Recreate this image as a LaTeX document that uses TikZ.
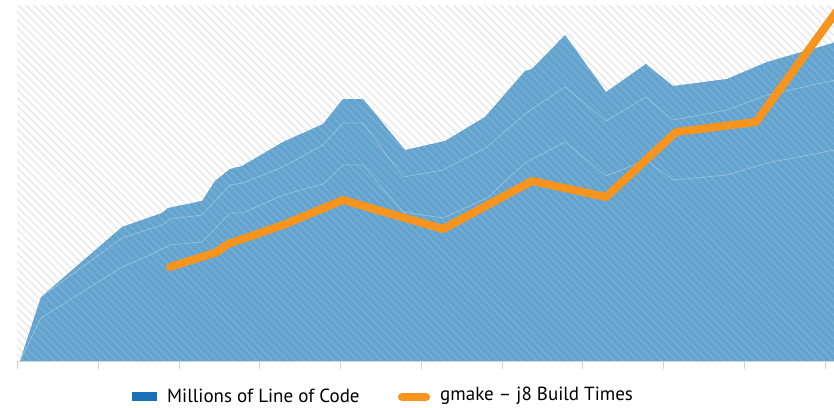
\documentclass[tikz,border=0pt]{standalone}
\usepackage{fontspec}
\setmainfont{PT Sans}
\usetikzlibrary{patterns.meta}
\definecolor{areablue}{HTML}{64A3CD}
\definecolor{hatchblue}{HTML}{72ADD5}
\definecolor{legblue}{HTML}{1A70B6}
\definecolor{buildorange}{HTML}{F7941D}
\definecolor{hatchgray}{HTML}{EBEBEB}
\definecolor{axisgray}{HTML}{D2D2D2}
\newcommand\codearea{(20,361) -- (41,297) -- (122,227) -- (162,213) -- (168,208) -- (202,201)
  -- (215,181) -- (230,169) -- (242,166) -- (283,142) -- (323,124) -- (343,99) -- (363,99)
  -- (405,150) -- (445,141) -- (485,117) -- (525,71) -- (532,69) -- (565,35) -- (606,92)
  -- (646,64) -- (673,86) -- (727,79) -- (767,62) -- (840,41) -- (840,361) -- cycle}
\begin{document}
\begin{tikzpicture}[x=1pt,y=-1pt,
  hatch/.style={pattern={Lines[angle=-45,distance=5.5pt,line width=1.7pt]},pattern color=#1},
  inner line/.style={draw=white,opacity=0.3,line width=0.7pt,line join=round},
  build/.style={buildorange,line width=8pt,line cap=round,line join=round},
  legend text/.style={font=\fontsize{19}{22}\selectfont,anchor=west,inner sep=0pt}]
\useasboundingbox (0,0) rectangle (834,407);
% plot background
\fill[white] (0,0) rectangle (834,407);
\fill[hatch=hatchgray] (17,5) rectangle (834,361);
\begin{scope}
\clip (0,0) rectangle (834,407);
% lines of code
\fill[areablue] \codearea;
\fill[hatch=hatchblue] \codearea;
\draw[inner line] (41,297) -- (122,238) -- (162,225) -- (170,219) -- (202,215) -- (230,185)
  -- (243,183) -- (283,167) -- (323,145) -- (343,123) -- (363,123) -- (403,177) -- (443,170)
  -- (487,147) -- (525,114) -- (565,87) -- (606,121) -- (646,97) -- (673,120) -- (727,110)
  -- (767,95) -- (840,79);
\draw[inner line] (20,361) -- (41,318) -- (122,267) -- (150,255) -- (170,245) -- (202,242)
  -- (230,213) -- (243,213) -- (283,195) -- (323,184) -- (343,165) -- (363,165) -- (403,212)
  -- (443,218) -- (487,198) -- (525,163) -- (565,142) -- (606,176) -- (646,160) -- (673,180)
  -- (727,175) -- (767,163) -- (840,149);
% build times
\draw[build] (170,267) -- (217,252) -- (228,244) -- (283,225) -- (343,200) -- (443,229)
  -- (532,181) -- (606,197) -- (676,132) -- (756,122) -- (845,0);
\end{scope}
% axis
\draw[axisgray,line width=1pt] (17,361.5) -- (834,361.5);
\foreach \i in {0,...,10}
  \draw[axisgray,line width=1pt] ({17.5+80.75*\i},361.5) -- ++(0,7);
% legend
\node[fill=legblue,minimum width=25pt,minimum height=9pt,inner sep=0pt] (codekey) at (144.5,396.5) {};
\node[legend text] (codelabel) at (167,395.5) {Millions of Line of Code};
\coordinate (buildkeyl) at (402,397);
\coordinate (buildkeyr) at (426,397);
\draw[build] (buildkeyl) -- (buildkeyr);
\node[legend text] (buildlabel) at (440,395.5) {gmake – j8 Build Times};
\end{tikzpicture}
\end{document}
